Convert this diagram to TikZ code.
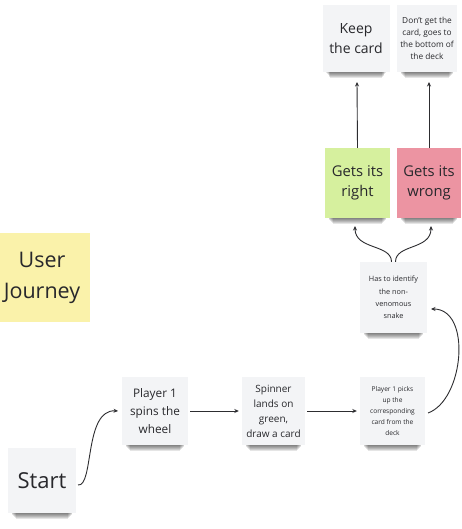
\documentclass[tikz,border=0pt]{standalone}
\usepackage{fontspec}
\setmainfont{Open Sans}
\usetikzlibrary{arrows.meta,backgrounds}

\definecolor{notegray}{RGB}{243,244,246}
\definecolor{notegreen}{RGB}{214,240,158}
\definecolor{notepink}{RGB}{236,148,162}
\definecolor{noteyellow}{RGB}{250,242,170}
\definecolor{ink}{RGB}{45,45,48}
\definecolor{txt}{RGB}{40,40,44}

\tikzset{
  note/.style={fill=notegray, inner sep=0pt, align=center, text=txt},
  flow/.style={draw=ink, line width=0.9pt,
    -{Stealth[length=4.5pt,width=4pt]}},
}

\begin{document}
\begin{tikzpicture}[x=1pt,y=-1pt]
\useasboundingbox (0,0) rectangle (462,529);

% label note
\node[note, fill=noteyellow, minimum width=96pt, minimum height=89pt,
  font=\fontsize{21.5}{31}\selectfont] (user) at (42,277.5) {User\\Journey};

% outcome notes
\node[note, minimum width=67pt, minimum height=67pt,
  font=\fontsize{14}{19.5}\selectfont] (keep) at (356,38.5) {Keep\\the card};
\node[note, minimum width=60pt, minimum height=67pt,
  font=\fontsize{8.3}{12}\selectfont] (dont) at (427,38.5)
  {Don't get the\\card, goes to\\the bottom of\\the deck};

% answer notes
\node[note, fill=notegreen, minimum width=65pt, minimum height=70pt,
  font=\fontsize{14.8}{20.5}\selectfont] (right) at (357.5,183) {Gets its\\right};
\node[note, fill=notepink, minimum width=64pt, minimum height=70pt,
  font=\fontsize{14.8}{20.5}\selectfont] (wrong) at (429,183) {Gets its\\wrong};

% question note
\node[note, minimum width=67pt, minimum height=71pt,
  font=\fontsize{7.3}{12.3}\selectfont] (ident) at (393.5,297.5)
  {Has to identify\\the non-\\venomous\\snake};

% main flow
\node[note, minimum width=68pt, minimum height=65pt,
  font=\fontsize{22}{26}\selectfont] (start) at (42,480.5) {Start};
\node[note, minimum width=66pt, minimum height=68pt,
  font=\fontsize{11.8}{18}\selectfont] (spin) at (155,411)
  {Player 1\\spins the\\wheel};
\node[note, minimum width=63pt, minimum height=68pt,
  font=\fontsize{10}{15}\selectfont] (lands) at (273.5,411)
  {Spinner\\lands on\\green,\\draw a card};
\node[note, minimum width=65pt, minimum height=68pt,
  font=\fontsize{6.6}{11}\selectfont] (picks) at (392.5,411)
  {Player 1 picks\\up the\\corresponding\\card from the\\deck};

% white page, then a soft shadow band under every note
\begin{scope}[on background layer]
  \fill[white] (0,0) rectangle (462,529);
  \foreach \n in {keep,dont,right,wrong,ident,start,spin,lands,picks}{
    \foreach \k in {1,...,6}{
      \fill[black, opacity=0.1]
        ([xshift={3pt+0.8pt*\k}, yshift=2pt]\n.south west)
        rectangle ([xshift={-3pt-0.8pt*\k}, yshift={-1pt*\k}]\n.south east);
    }
  }
\end{scope}

% connectors
\coordinate (keepin) at (357,82);
\coordinate (dontin) at (429,82);
\draw[flow] (right.north) -- (keepin);
\draw[flow] (wrong.north -| dontin) -- (dontin);

\coordinate (rightin) at (355,226);
\coordinate (wrongin) at (431,226);
\draw[flow] ([xshift=-2pt]ident.north) .. controls (391.5,244) and (355,250) .. (rightin);
\draw[flow] ([xshift=2pt]ident.north) .. controls (395.5,244) and (431,250) .. (wrongin);

\coordinate (startout) at (78,485);
\coordinate (spinin) at (118,411);
\draw[flow] (startout) .. controls (94,487) and (84,409) .. (spinin);

\draw[flow] ([xshift=2pt]spin.east) -- ([xshift=-3pt]lands.west);
\draw[flow] ([xshift=2pt]lands.east) -- ([xshift=-3pt]picks.west);

\coordinate (picksout) at (428,413);
\coordinate (identin) at (431,309);
\draw[flow] (picksout) .. controls (464,400) and (472,309) .. (identin);
\end{tikzpicture}
\end{document}
